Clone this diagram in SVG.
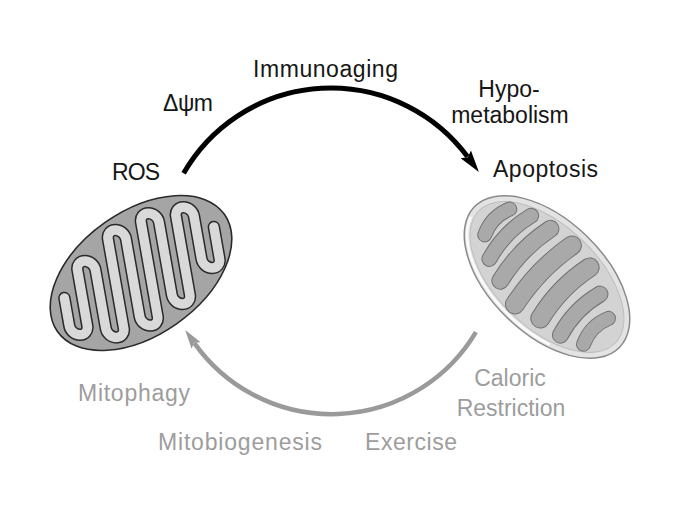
<svg xmlns="http://www.w3.org/2000/svg" width="675" height="507" viewBox="0 0 675 507">
  <defs>
    <style>
      .lbl { font-family: "Liberation Sans", Arial, sans-serif; font-size: 23px; }
      .dark { fill: #161616; }
      .grey { fill: #9d9d9d; }
      .crO { fill: none; stroke: #2a2a2a; stroke-width: 12.5; stroke-linecap: round; stroke-linejoin: round; }
      .crI { fill: none; stroke: #d9d9d9; stroke-width: 9.5; stroke-linecap: round; stroke-linejoin: round; }
      .barO { fill: none; stroke: #727272; stroke-linecap: round; }
      .barI { fill: none; stroke: #a9a9a9; stroke-linecap: round; }
    </style>
    <marker id="arrBlack" markerUnits="userSpaceOnUse" markerWidth="24" markerHeight="16" refX="3" refY="8" orient="auto">
      <path d="M0,1.6 L22,8 L0,14.4 L3.5,8 Z" fill="#000"/>
    </marker>
    <marker id="arrGrey" markerUnits="userSpaceOnUse" markerWidth="22" markerHeight="16" refX="3" refY="8" orient="auto">
      <path d="M0,2.4 L19,8 L0,13.6 L3.5,8 Z" fill="#9a9a9a"/>
    </marker>
  </defs>

  <rect width="675" height="507" fill="#ffffff"/>

  <g id="connectors">
    <path id="arc-top" d="M183.6,173.3 A170 170 0 0 1 467.6,156.8" fill="none" stroke="#000" stroke-width="5" marker-end="url(#arrBlack)"/>
    <path id="arc-bottom" d="M475.9,332.2 A168 168 0 0 1 194.4,343.1" fill="none" stroke="#9a9a9a" stroke-width="4.5" marker-end="url(#arrGrey)"/>
  </g>

  <g id="mito-left">
    <ellipse cx="141" cy="273" rx="102" ry="62" transform="rotate(-35 141 273)" fill="#a5a5a5" stroke="#2a2a2a" stroke-width="1.6"/>
    <g transform="translate(141,273) skewX(10)">
      <path class="crO" vector-effect="non-scaling-stroke" d="M-81,25 L-81,52.8 A9 9 0 0 0 -63,52.8 L-63,-3 A9 9 0 0 1 -45,-3 L-45,55.4 A9 9 0 0 0 -27,55.4 L-27,-34 A9 9 0 0 1 -9,-34 L-9,43.6 A9 9 0 0 0 9,43.6 L9,-50.8 A9 9 0 0 1 27,-50.8 L27,22 A9 9 0 0 0 45,22 L45,-56.8 A9 9 0 0 1 63,-56.8 L63,-14 A9 9 0 0 0 81,-14 L81,-46"/>
      <path class="crI" vector-effect="non-scaling-stroke" d="M-81,25 L-81,52.8 A9 9 0 0 0 -63,52.8 L-63,-3 A9 9 0 0 1 -45,-3 L-45,55.4 A9 9 0 0 0 -27,55.4 L-27,-34 A9 9 0 0 1 -9,-34 L-9,43.6 A9 9 0 0 0 9,43.6 L9,-50.8 A9 9 0 0 1 27,-50.8 L27,22 A9 9 0 0 0 45,22 L45,-56.8 A9 9 0 0 1 63,-56.8 L63,-14 A9 9 0 0 0 81,-14 L81,-46"/>
    </g>
  </g>

  <g id="mito-right" transform="translate(547,277) rotate(44)">
    <ellipse rx="101" ry="57" fill="#e3e3e3" stroke="#8a8a8a" stroke-width="1.5"/>
    <ellipse rx="95" ry="51" fill="#d3d3d3" stroke="#bdbdbd" stroke-width="1"/>
    <path d="M-96.5,9.4 A98 54 0 0 0 49,46.8" fill="none" stroke="#ffffff" stroke-width="2.5" opacity="0.85"/>
    <path class="barO" stroke-width="15" d="M-74,-23 Q-82,-5 -74,13"/>
    <path class="barI" stroke-width="13" d="M-74,-23 Q-82,-5 -74,13"/>
    <path class="barO" stroke-width="16" d="M-54,-33 Q-62,-3 -54,27"/>
    <path class="barI" stroke-width="14" d="M-54,-33 Q-62,-3 -54,27"/>
    <path class="barO" stroke-width="18" d="M-31,-37 Q-39,-1 -31,35"/>
    <path class="barI" stroke-width="16" d="M-31,-37 Q-39,-1 -31,35"/>
    <path class="barO" stroke-width="20" d="M-4,-40 Q-12,1 -4,42"/>
    <path class="barI" stroke-width="18" d="M-4,-40 Q-12,1 -4,42"/>
    <path class="barO" stroke-width="20" d="M24,-36.5 Q16,-1 24,34.5"/>
    <path class="barI" stroke-width="18" d="M24,-36.5 Q16,-1 24,34.5"/>
    <path class="barO" stroke-width="17" d="M50,-24.5 Q42,4 50,32.5"/>
    <path class="barI" stroke-width="15" d="M50,-24.5 Q42,4 50,32.5"/>
    <path class="barO" stroke-width="15" d="M73,-13 Q65,5 73,23"/>
    <path class="barI" stroke-width="13" d="M73,-13 Q65,5 73,23"/>
  </g>

  <g id="labels">
    <text class="lbl dark" x="253" y="77" textLength="145" lengthAdjust="spacing">Immunoaging</text>
    <text class="lbl dark" x="163" y="111" textLength="50" lengthAdjust="spacing">Δψm</text>
    <text class="lbl dark" x="509" y="97" text-anchor="middle">Hypo-</text>
    <text class="lbl dark" x="510" y="123" text-anchor="middle">metabolism</text>
    <text class="lbl dark" x="112" y="180" textLength="48" lengthAdjust="spacing">ROS</text>
    <text class="lbl dark" x="493" y="177" textLength="105" lengthAdjust="spacing">Apoptosis</text>
    <text class="lbl grey" x="78" y="401" textLength="112" lengthAdjust="spacing">Mitophagy</text>
    <text class="lbl grey" x="510" y="386" text-anchor="middle">Caloric</text>
    <text class="lbl grey" x="511" y="416" text-anchor="middle">Restriction</text>
    <text class="lbl grey" x="158" y="450" textLength="164" lengthAdjust="spacing">Mitobiogenesis</text>
    <text class="lbl grey" x="365" y="450" textLength="92" lengthAdjust="spacing">Exercise</text>
  </g>
</svg>
